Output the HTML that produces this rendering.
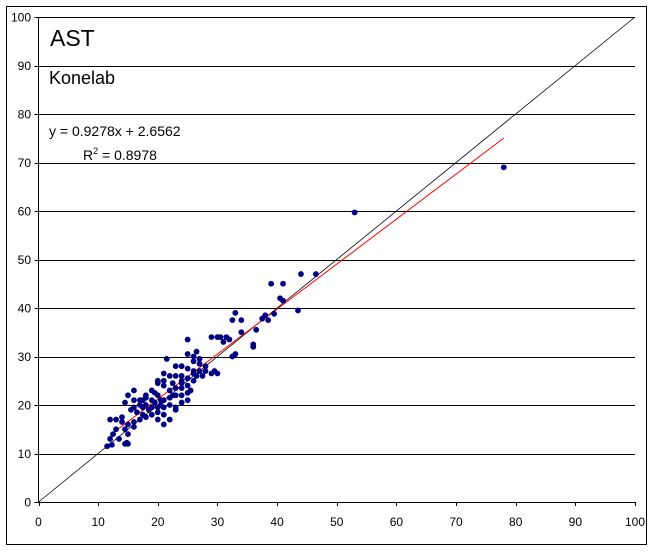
<!DOCTYPE html>
<html><head><meta charset="utf-8"><style>
body{margin:0;background:#fff;}
svg text{font-family:"Liberation Sans",Arial,sans-serif;}
</style></head><body>
<svg id="chart" width="655" height="551" xmlns="http://www.w3.org/2000/svg">
<rect x="6.5" y="6.5" width="640" height="538" fill="#fff" stroke="#000"/>
<g id="grid"></g>
<g id="axes"></g>
<g id="lines"></g>
<g id="pts"></g>
<text x="50" y="46" font-size="23">AST</text>
<text x="49" y="84" font-size="18">Konelab</text>
<text x="49" y="136" font-size="14">y = 0.9278x + 2.6562</text>
<text x="83" y="160" font-size="14">R<tspan dy="-6" font-size="9">2</tspan><tspan dy="6"> = 0.8978</tspan></text>
</svg>
<script>
const xTicks=[0,10,20,30,40,50,60,70,80,90,100];
const yTicks=[0,10,20,30,40,50,60,70,80,90,100];
const slope=0.9278, intercept=2.6562, fitStart=12, fitEnd=78;
const xs=[78,53,46.5,44,39,41,40.5,41,43.5,38,39.5,36.5,36,36,33,32.5,34,33,32.5,31.5,30.5,30,29,31,29.5,29,28,25,25,26,27,27,24,26,26.5,27.5,26,25,24,23,22,21,21,22.5,24,24,23,22,21,20.5,20,19.5,19,18,17.5,17,16,16,15,14.5,15.5,16.5,17.5,18.5,19,20,21,22,23,24,25,25.5,25,17,18,19,20,21,22,23,21,20,16,15,14,13,12,13,14.5,15,16,12,12.5,13.5,15,14.8,11.5,12.3,14.5,17,18,20,21,22,23,24,25,26,27,28,30,18,19,16,14,17.5,19.5,20.5,22.5,24,25,26,23,26.5,32,34,37.5,38.5,21.5,20];
const ys=[69,59.7,47,47,45,45,42,41.5,39.5,38.5,38.8,35.5,32.5,32,39,37.5,37.5,30.5,30,34,34,34,34,33,27,26.5,27,33.5,30.5,30,29.5,28.5,28,27,26,26,25,24,25,26,26,26.5,25,24.5,23.5,22,22,21.5,21,21,22,22.5,21,21.5,21,20,19.5,21,22,20.5,19,18.5,18,19,19.5,19.5,19.5,20,19.5,20.5,21,23,22.5,17,17.5,18,18.5,18,17,19,16,17,16.5,16,17.5,17,17,15,15,14,15.5,13,14,13,12,12.2,11.5,11.8,12,21,20,24.5,24,23,23.5,24.5,25.5,26.5,27,28,26.5,22,23,23,16.5,19.5,20.5,20,22,26,27.5,29,28,31,33.5,35,37.8,37.5,29.5,25];
const NS="http://www.w3.org/2000/svg";
const X0=38.5,X1=635,Y0=502,Y1=17;
function sx(v){return X0+(X1-X0)*v/100;}
function sy(v){return Y0-(Y0-Y1)*v/100;}
function mk(t,a,p){const e=document.createElementNS(NS,t);for(const k in a)e.setAttribute(k,a[k]);p.appendChild(e);return e;}
const grid=document.getElementById('grid'),axes=document.getElementById('axes'),lines=document.getElementById('lines'),pts=document.getElementById('pts');
yTicks.forEach(v=>{
 if(v>0){const g=mk('line',{x1:X0,x2:X1,y1:Math.round(sy(v))+0.5,y2:Math.round(sy(v))+0.5,stroke:'#000','stroke-width':1},grid);
 
 }
 const tk=mk('line',{x1:X0-4,x2:X0,y1:Math.round(sy(v))+0.5,y2:Math.round(sy(v))+0.5,stroke:'#000'},axes);
 
 
 const t=mk('text',{x:31,y:sy(v)+4.5,'font-size':12,'text-anchor':'end'},axes);t.textContent=v;
 
 
});
xTicks.forEach(v=>{
 const tk=mk('line',{x1:Math.round(sx(v))+0.5,x2:Math.round(sx(v))+0.5,y1:Y0,y2:Y0+4,stroke:'#000'},axes);
 
 
 const t=mk('text',{x:sx(v),y:526,'font-size':12,'text-anchor':'middle'},axes);t.textContent=v;
 
 
});
const ya=mk('line',{x1:X0,x2:X0,y1:Y1,y2:Y0,stroke:'#000'},axes);


const xa=mk('line',{x1:X0,x2:X1,y1:Y0+0.5,y2:Y0+0.5,stroke:'#000'},axes);


const id=mk('line',{x1:sx(0),y1:sy(0),x2:sx(100),y2:sy(100),stroke:'#000','stroke-width':0.8},lines);


const fit=mk('line',{x1:sx(fitStart),y1:sy(slope*fitStart+intercept),x2:sx(fitEnd),y2:sy(slope*fitEnd+intercept),stroke:'#f00','stroke-width':1},lines);


xs.forEach((x,i)=>{
 const c=mk('circle',{cx:sx(x),cy:sy(ys[i]),r:2.9,fill:'#000080'},pts);
 
 
});
</script>
</body></html>
